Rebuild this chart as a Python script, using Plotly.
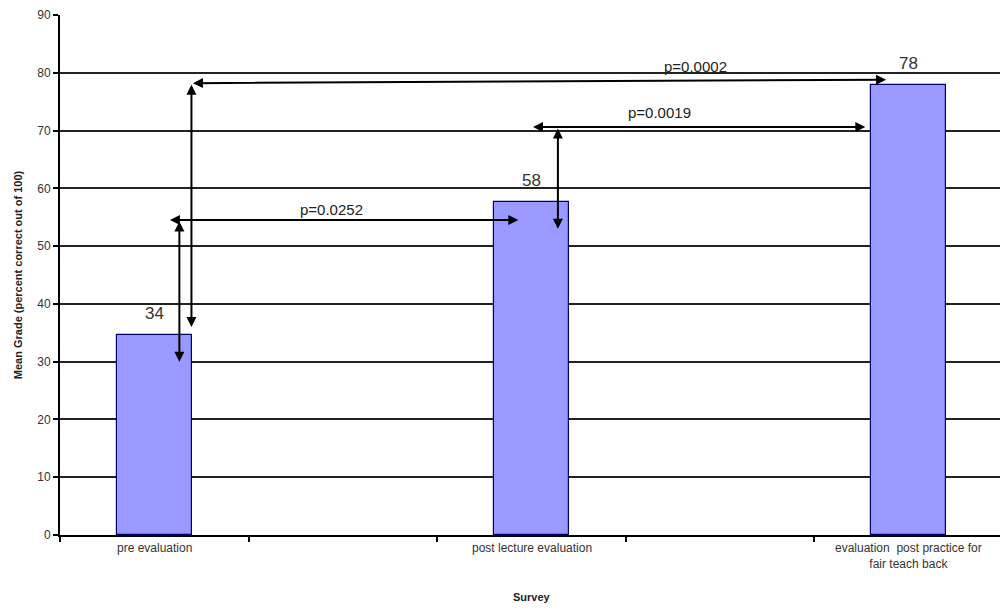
import plotly.graph_objects as go

# ---- data ----
categories = ["pre evaluation", "", "post lecture evaluation", "", "evaluation  post practice for<br>fair teach back"]
bar_positions = [0, 2, 4]
bar_labels = ["pre evaluation", "post lecture evaluation", "evaluation  post practice for<br>fair teach back"]
mean_grades = [34.6, 57.7, 77.8]
value_text = ["34", "58", "78"]
y_ticks = [0, 10, 20, 30, 40, 50, 60, 70, 80, 90]

# comparison arrows (data coordinates): (x_tail, y_tail, x_head, y_head, sides)
arrow_segments = [
    (0.075, 54.5, 1.93, 54.5, "end+start"),   # p=0.0252 horizontal
    (0.133, 54.5, 0.133, 30.0, "end+start"),  # vertical at pre
    (0.197, 78.2, 3.88, 78.8, "end+start"),   # p=0.0002 horizontal
    (0.197, 78.2, 0.197, 36.0, "end+start"),  # vertical at pre
    (2.00, 70.6, 3.77, 70.6, "end+start"),    # p=0.0019 horizontal
    (2.14, 70.6, 2.14, 53.0, "end+start"),    # vertical at post lecture
]
p_labels = ["p=0.0252", "p=0.0002", "p=0.0019"]
p_label_x = [0.94, 2.87, 2.68]
p_label_y = [54.5, 79.3, 71.3]

FONT = "Liberation Sans, Arial, sans-serif"

fig = go.Figure()
fig.add_trace(go.Bar(
    x=bar_positions, y=mean_grades, width=0.4,
    marker=dict(color="#9999FF", line=dict(color="#000066", width=1.2)),
))

annotations = []
for (x0, y0, x1, y1, side) in arrow_segments:
    annotations.append(dict(
        x=x1, y=y1, ax=x0, ay=y0, xref="x", yref="y", axref="x", ayref="y",
        showarrow=True, arrowhead=2, startarrowhead=2, arrowside=side,
        arrowwidth=2, arrowsize=1, startarrowsize=1, arrowcolor="#000000", text="",
    ))
for t, x, y in zip(value_text, bar_positions, mean_grades):
    annotations.append(dict(
        x=x, y=y, xref="x", yref="y", text=t, showarrow=False,
        yanchor="bottom", yshift=10, font=dict(size=17, color="#333333", family=FONT),
    ))
for t, x, y in zip(p_labels, p_label_x, p_label_y):
    annotations.append(dict(
        x=x, y=y, xref="x", yref="y", text=t, showarrow=False,
        yanchor="bottom", font=dict(size=15, color="#222222", family=FONT),
    ))
for t, x in zip(bar_labels, bar_positions):
    annotations.append(dict(
        x=x, y=0, xref="x", yref="paper", text=t, showarrow=False,
        yanchor="top", yshift=-4, font=dict(size=12, color="#333333", family=FONT),
    ))
annotations.append(dict(
    x=0.5, y=0, xref="paper", yref="paper", text="<b>Survey</b>", showarrow=False,
    yanchor="top", yshift=-54, font=dict(size=11, color="#222222", family=FONT),
))

fig.update_layout(
    width=1008, height=610,
    margin=dict(l=52, r=13, t=7, b=83),
    paper_bgcolor="white", plot_bgcolor="white",
    showlegend=False,
    bargap=0,
    annotations=annotations,
    font=dict(family=FONT),
    xaxis=dict(
        range=[-0.5, 4.5], automargin=False,
        tickvals=[-0.5, 0.5, 1.5, 2.5, 3.5, 4.5],
        ticktext=["", "", "", "", "", ""],
        ticks="outside", ticklen=5, tickcolor="#000000", tickwidth=1.5,
        showgrid=False, zeroline=False,
        showline=True, linecolor="#000000", linewidth=2,
    ),
    yaxis=dict(
        range=[0, 90], tickvals=y_ticks, automargin=False,
        ticks="outside", ticklen=5, tickcolor="#000000", tickwidth=1.5,
        tickfont=dict(size=12, color="#333333", family=FONT),
        showgrid=True, gridcolor="#222222", gridwidth=1.5,
        zeroline=False,
        showline=True, linecolor="#000000", linewidth=2,
        title=dict(text="<b>Mean Grade (percent correct out of 100)</b>",
                   font=dict(size=11, color="#222222", family=FONT), standoff=12),
    ),
)

fig.write_html("out.html")
